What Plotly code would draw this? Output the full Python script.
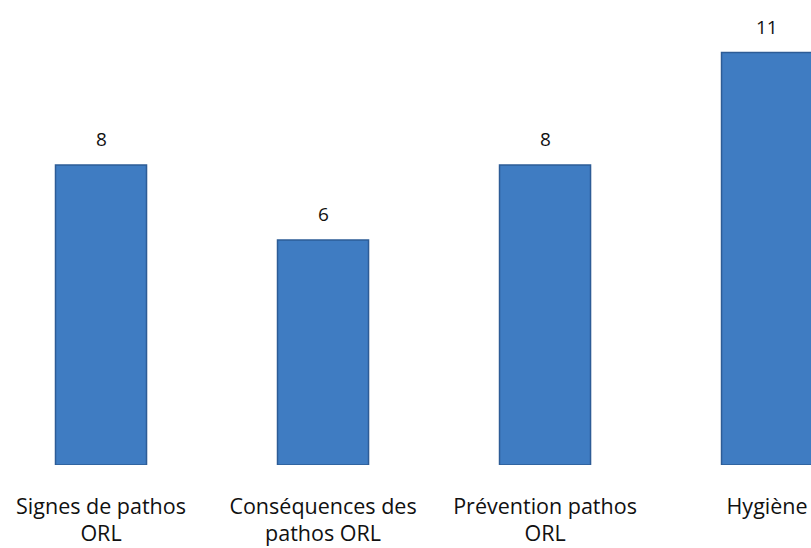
import plotly.graph_objects as go

categories = ["Signes de pathos<br>ORL", "Conséquences des<br>pathos ORL", "Prévention pathos<br>ORL", "Hygiène"]
values = [8, 6, 8, 11]

bar_color = "#3F7CC2"
edge_color = "#2D5C96"
font_family = "Open Sans, Lato, sans-serif"

fig = go.Figure(go.Bar(
    x=categories,
    y=values,
    width=0.41,
    marker=dict(color=bar_color, line=dict(color=edge_color, width=1.5)),
    hoverinfo="skip",
))

# value labels above each bar
for c, v in zip(categories, values):
    fig.add_annotation(x=c, y=v, text=str(v), showarrow=False,
                       yanchor="bottom", yshift=11,
                       font=dict(size=19, color="#111111", family=font_family))

fig.update_layout(
    width=811, height=548,
    margin=dict(l=0, r=0, t=0, b=83),
    paper_bgcolor="white", plot_bgcolor="white",
    showlegend=False,
    font=dict(family=font_family, size=21, color="#111111"),
)
fig.update_xaxes(range=[-0.455, 3.198], showline=False, showgrid=False,
                 ticks="", ticklabelstandoff=26, tickfont=dict(size=21.5),
                 automargin=False)
fig.update_yaxes(range=[0, 12.4], visible=False)

fig.write_html("out.html", config={"displayModeBar": False},
               post_script="document.body.style.margin='0';")
